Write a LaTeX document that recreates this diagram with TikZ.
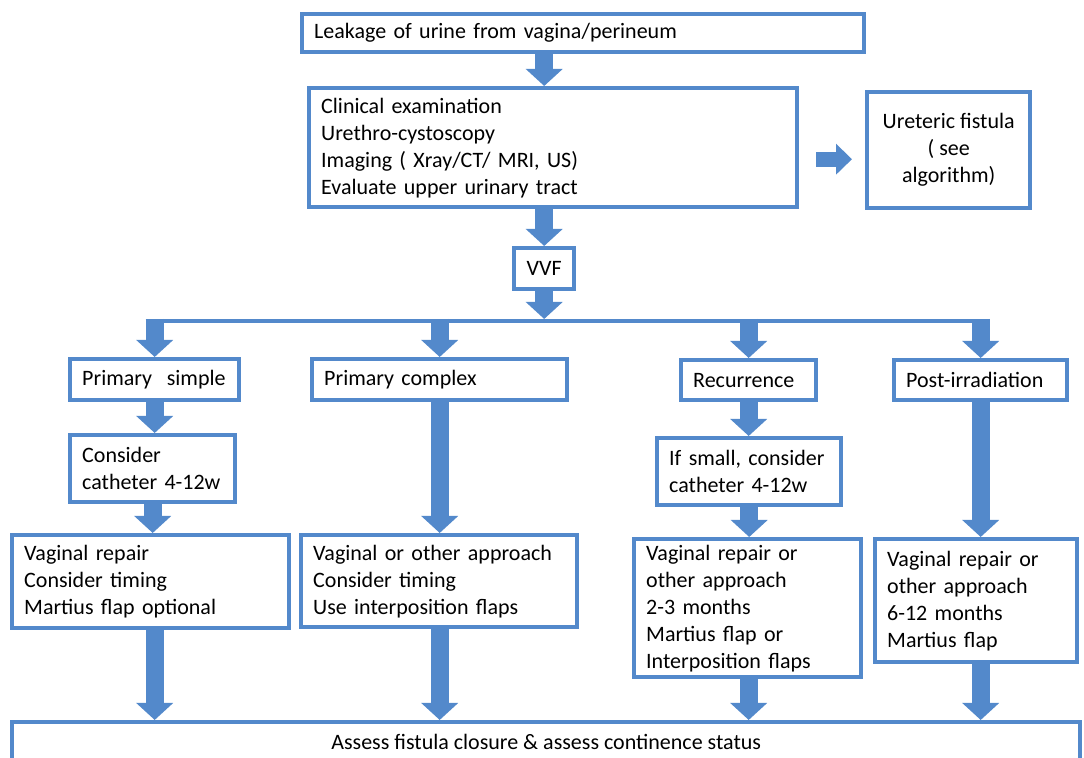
\documentclass[tikz,border=0pt]{standalone}
\usepackage{fontspec}
\setmainfont{Carlito}
\usetikzlibrary{arrows.meta, positioning}
\definecolor{flowblue}{RGB}{83,137,203}

\begin{document}
\begin{tikzpicture}[x=0.5pt, y=-0.5pt,
    box/.style={draw=flowblue, line width=2.2pt, anchor=north west,
      inner xsep=6pt, inner ysep=0pt, align=left,
      font=\fontsize{11}{13.5}\selectfont,
      execute at begin node={\hyphenpenalty=10000\exhyphenpenalty=10000}},
    cbox/.style={box, align=center, inner xsep=2pt},
    fat/.style={draw=flowblue, line width=9pt,
      -{Triangle[width=18pt, length=8.5pt]}},
    side/.style={draw=flowblue, line width=7.5pt,
      -{Triangle[width=15pt, length=8pt]}}]
  \useasboundingbox (0,0) rectangle (1084,758);

  % top of the chart
  \node[box, text width=269pt, minimum height=19pt] (leak) at (300,12)
    {Leakage of urine from vagina/perineum};
  \node[box, text width=232pt, minimum height=59.5pt] (clin) at (307,86)
    {Clinical examination\\
     Urethro-cystoscopy\\
     Imaging ( Xray/CT/ MRI, US)\\
     Evaluate upper urinary tract};
  \node[cbox, minimum width=81.5pt, minimum height=58pt] (uret) at (865,90)
    {Ureteric fistula\\( see\\algorithm)};
  \node[cbox, minimum width=30pt, minimum height=20.5pt] (vvf) at (512,246) {VVF};
  \coordinate (split) at (541,321);

  % the four branches
  \node[box, text width=72.5pt, minimum height=20.5pt] (psim) at (68,357)
    {Primary~ simple};
  \node[box, text width=115.5pt, minimum height=20.5pt] (pcom) at (310,357)
    {Primary complex};
  \node[box, text width=55.5pt, minimum height=20pt] (recu) at (679,358)
    {Recurrence};
  \node[box, text width=74.5pt, minimum height=20pt] (post) at (892,358)
    {Post-irradiation};

  \node[box, text width=70.5pt, minimum height=33.5pt] (cons) at (68,433)
    {Consider\\catheter 4-12w};
  \node[box, text width=80pt, minimum height=33.5pt] (small) at (655,436)
    {If small, consider\\catheter 4-12w};

  \node[box, text width=126.5pt, minimum height=46.5pt] (vrep) at (10,533)
    {Vaginal repair\\
     Consider timing\\
     Martius flap optional};
  \node[box, text width=126pt, minimum height=46pt] (voth) at (299,533)
    {Vaginal or other approach\\
     Consider timing\\
     Use interposition flaps};
  \node[box, text width=101.5pt, minimum height=69pt] (vrec) at (632,537)
    {Vaginal repair or\\
     other approach\\
     2-3 months\\
     Martius flap or\\
     Interposition flaps};
  \node[box, text width=89pt, minimum height=61.5pt] (vpost) at (873,537)
    {Vaginal repair or\\
     other approach\\
     6-12 months\\
     Martius flap};

  \node[cbox, minimum width=534pt, minimum height=20pt] (assess) at (10,720)
    {Assess fistula closure \& assess continence status};

  % connectors
  \draw[fat] (vvf |- leak.south) -- (vvf |- clin.north);
  \draw[fat] (vvf |- clin.south) -- (vvf.north);
  \draw[fat] (vvf.south) -- ([yshift=1pt]vvf.south |- split);
  \draw[side] ([xshift=8.5pt, yshift=-5.75pt]clin.east)
    -- ([xshift=-6.5pt, yshift=-5.75pt]clin.east -| uret.west);

  \draw[flowblue, line width=2pt, shorten <=-4.5pt, shorten >=-4.5pt]
    (psim.north |- split) -- (post.north |- split);
  \foreach \n in {psim, pcom, recu, post}
    \draw[fat] ([yshift=1pt]\n.north |- split) -- (\n.north);

  \draw[fat] (psim.south) -- (psim.south |- cons.north);
  \draw[fat] (cons.south) -- (cons.south |- vrep.north);
  \draw[fat] (pcom.south) -- (pcom.south |- voth.north);
  \draw[fat] (recu.south) -- (recu.south |- small.north);
  \draw[fat] (small.south) -- (small.south |- vrec.north);
  \draw[fat] (post.south) -- (post.south |- vpost.north);

  \foreach \n/\m in {psim/vrep, pcom/voth, recu/vrec, post/vpost}
    \draw[fat] (\n.south |- \m.south) -- (\n.south |- assess.north);
\end{tikzpicture}
\end{document}
